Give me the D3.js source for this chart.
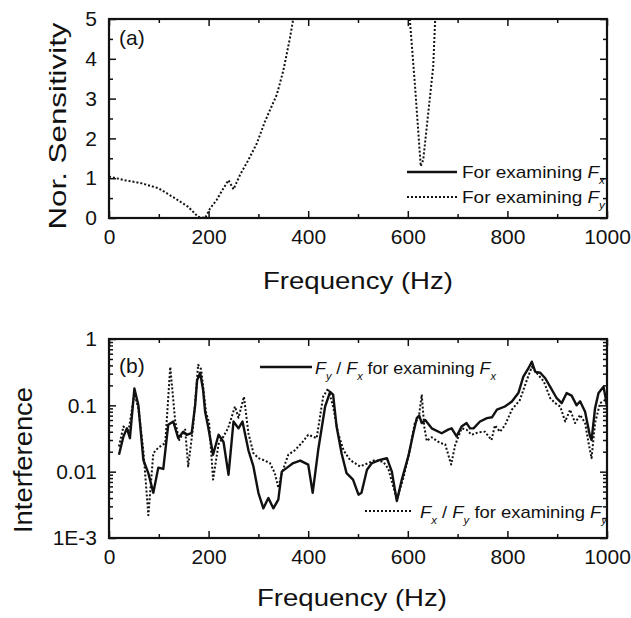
<!DOCTYPE html>
<html>
<head>
<meta charset="utf-8">
<script src="https://cdn.jsdelivr.net/npm/d3@7"></script>
<style>
  body { margin: 0; background: #fff; }
  svg { display: block; font-family: Arial, "Liberation Sans", sans-serif; }
  .tick text { font-size: 21px; fill: #111; }
  .tick line { stroke: #111; stroke-width: 1.5; }
</style>
</head>
<body>
<svg id="chart" width="631" height="618"></svg>
<script>
// ---- panel (a): normalized sensitivity (only the F_y curve falls inside 0..5)
const sensFreq = [0, 32, 66, 99, 132, 159, 179, 193, 203, 216, 230, 240, 250, 263, 280, 297, 313, 337, 350, 363, 370,
                  null, 604, 614, 626, 631, 651, 655];
const sensFy   = [1.04, 0.95, 0.87, 0.75, 0.5, 0.28, 0.03, 0.0, 0.24, 0.45, 0.75, 0.95, 0.72, 1.08, 1.46, 1.88, 2.42, 3.1, 3.7, 4.5, 5.0,
                  null, 5.0, 3.4, 1.3, 1.46, 3.8, 5.0];

// ---- panel (b): interference
const intFreqX = [20, 29, 36, 42, 51, 59, 69, 79, 89, 99, 109, 119, 129, 139, 149, 156, 166, 173, 177, 183, 189, 193, 199, 209,
                  220, 230, 240, 250, 260, 268, 280, 290, 300, 310, 320, 330, 340, 347, 357, 370, 384, 400, 409, 420, 434, 444,
                  450, 457, 467, 477, 490, 501, 507, 518, 528, 544, 558, 568, 578, 588, 601, 611, 618, 623, 628, 635, 648, 668,
                  681, 688, 698, 708, 718, 725, 732, 745, 759, 769, 779, 795, 809, 822, 832, 842, 849, 856, 866, 876, 886, 899,
                  909, 919, 929, 939, 946, 956, 966, 969, 976, 983, 993, 1000];
const intFx    = [0.018, 0.034, 0.045, 0.032, 0.18, 0.10, 0.015, 0.0095, 0.0048, 0.0115, 0.011, 0.051, 0.057, 0.032, 0.04, 0.036, 0.038, 0.1, 0.24, 0.31, 0.17, 0.08,
                  0.048, 0.018, 0.036, 0.028, 0.009, 0.057, 0.045, 0.057, 0.021, 0.012, 0.0048, 0.0028, 0.004, 0.0028, 0.0038, 0.010,
                  0.0114, 0.0135, 0.0147, 0.0128, 0.0048, 0.021, 0.096, 0.16, 0.145, 0.048, 0.019, 0.0095, 0.0076, 0.0045, 0.0048,
                  0.0107, 0.0135, 0.015, 0.016, 0.010, 0.0036, 0.0076, 0.017, 0.038, 0.064, 0.07, 0.054, 0.06, 0.045, 0.038, 0.043,
                  0.045, 0.034, 0.048, 0.054, 0.045, 0.045, 0.057, 0.064, 0.066, 0.086, 0.096, 0.114, 0.153, 0.27, 0.36, 0.455, 0.32,
                  0.31, 0.256, 0.19, 0.128, 0.108, 0.153, 0.14, 0.10, 0.115, 0.08, 0.034, 0.03, 0.09, 0.153, 0.19, 0.1];

const intFreqY = [20, 29, 39, 51, 59, 69, 79, 89, 99, 113, 123, 133, 141, 153, 159, 169, 179, 185, 195, 201, 209, 220, 230, 239,
                  253, 260, 271, 280, 290, 300, 310, 323, 333, 340, 347, 360, 373, 387, 400, 417, 430, 440, 450, 460, 471, 484,
                  504, 521, 534, 551, 561, 578, 591, 604, 614, 622, 628, 633, 638, 648, 665, 675, 687, 695, 708, 718, 728, 741,
                  755, 768, 775, 785, 795, 809, 825, 839, 849, 860, 873, 886, 896, 906, 916, 926, 936, 946, 956, 963, 969, 976,
                  986, 996, 1000];
const intFy    = [0.024, 0.048, 0.04, 0.15, 0.09, 0.021, 0.0022, 0.019, 0.023, 0.027, 0.38, 0.057, 0.03, 0.043, 0.012, 0.048, 0.41,
                  0.35, 0.077, 0.055, 0.0076, 0.026, 0.034, 0.045, 0.096, 0.065, 0.135, 0.038, 0.019, 0.016, 0.015, 0.0135, 0.0095,
                  0.0057, 0.0095, 0.018, 0.021, 0.027, 0.036, 0.032, 0.135, 0.18, 0.096, 0.038, 0.021, 0.015, 0.012, 0.0135, 0.015,
                  0.014, 0.011, 0.0038, 0.008, 0.021, 0.054, 0.065, 0.145, 0.048, 0.029, 0.033, 0.027, 0.026, 0.0128, 0.025, 0.045,
                  0.043, 0.036, 0.039, 0.04, 0.03, 0.05, 0.04, 0.05, 0.086, 0.12, 0.24, 0.38, 0.3, 0.23, 0.128, 0.108, 0.096, 0.057,
                  0.086, 0.054, 0.072, 0.054, 0.027, 0.016, 0.054, 0.108, 0.12, 0.1];

const xTicks = [0, 200, 400, 600, 800, 1000];
const xMinor = [100, 300, 500, 700, 900];
const sensTicks = [0, 1, 2, 3, 4, 5];
const sensMinor = [0.5, 1.5, 2.5, 3.5, 4.5];
const intTicks = [1e-3, 1e-2, 1e-1, 1];
const intTickLabels = ['1E-3', '0.01', '0.1', '1'];

const svg = d3.select('#chart');
const ink = '#111';

const x = d3.scaleLinear().domain([0, 1000]).range([109, 607]);
const ySens = d3.scaleLinear().domain([0, 5]).range([218, 19]);
const yInt = d3.scaleLog().domain([1e-3, 1]).range([538, 339]);

const intMinor = [];
[1e-3, 1e-2, 1e-1].forEach(d => { for (let k = 2; k <= 9; k++) intMinor.push(d * k); });

function drawFrame(y, yTicks, yMinor, yFormat) {
    const [xl, xr] = x.range();
    const [yb, yt] = y.range();
    const g = svg.append('g');

    const put = (axis, tx, ty) => {
        const a = g.append('g').attr('transform', `translate(${tx},${ty})`).call(axis);
        a.select('.domain').remove();
        return a;
    };

    // major ticks with labels, then mirrored / minor ones without
    put(d3.axisBottom(x).tickValues(xTicks).tickSizeInner(-7).tickSizeOuter(0).tickPadding(11).tickFormat(d3.format('d')), 0, yb);
    put(d3.axisBottom(x).tickValues(xMinor).tickSize(-4).tickFormat(''), 0, yb);
    put(d3.axisTop(x).tickValues(xTicks).tickSize(-7).tickFormat(''), 0, yt);
    put(d3.axisTop(x).tickValues(xMinor).tickSize(-4).tickFormat(''), 0, yt);

    put(d3.axisLeft(y).tickValues(yTicks).tickSizeInner(-7).tickSizeOuter(0).tickPadding(12).tickFormat(yFormat), xl, 0);
    put(d3.axisLeft(y).tickValues(yMinor).tickSize(-4).tickFormat(''), xl, 0);
    put(d3.axisRight(y).tickValues(yTicks).tickSize(-7).tickFormat(''), xr, 0);
    put(d3.axisRight(y).tickValues(yMinor).tickSize(-4).tickFormat(''), xr, 0);

    g.append('rect')
        .attr('x', xl).attr('y', yt)
        .attr('width', xr - xl).attr('height', yb - yt)
        .attr('fill', 'none').attr('stroke', ink).attr('stroke-width', 2.2);
}

function clip(id, y) {
    const [xl, xr] = x.range();
    const [yb, yt] = y.range();
    svg.append('clipPath').attr('id', id)
        .append('rect').attr('x', xl).attr('y', yt).attr('width', xr - xl).attr('height', yb - yt);
}

function drawLine(freq, vals, y, clipId, dotted) {
    const pts = freq.map((f, i) => [f, vals[i]]);
    const line = d3.line()
        .defined(d => d[0] !== null && d[1] !== null)
        .x(d => x(d[0]))
        .y(d => y(d[1]));
    svg.append('path')
        .datum(pts)
        .attr('clip-path', `url(#${clipId})`)
        .attr('d', line)
        .attr('fill', 'none')
        .attr('stroke', ink)
        .attr('stroke-width', dotted ? 2 : 2.4)
        .attr('stroke-dasharray', dotted ? '2,2' : null)
        .attr('stroke-linejoin', 'round');
}

// rich text: parts = [text, style] where style is 'i' (italic F) or 's' (subscript)
function richText(tx, ty, parts, size, len) {
    const t = svg.append('text').attr('x', tx).attr('y', ty)
        .attr('font-size', size).attr('fill', ink)
        .attr('textLength', len).attr('lengthAdjust', 'spacingAndGlyphs');
    let shifted = false;
    parts.forEach(([s, st]) => {
        const sp = t.append('tspan').text(s);
        if (st === 'i') sp.attr('font-style', 'italic');
        if (st === 's') {
            sp.attr('font-size', size * 0.62).attr('font-style', 'italic').attr('dy', 6);
            shifted = true;
        } else if (shifted) {
            sp.attr('dy', -6);
            shifted = false;
        }
    });
    return t;
}

function legendSample(x0, x1, yy, dotted) {
    svg.append('line')
        .attr('x1', x0).attr('x2', x1).attr('y1', yy).attr('y2', yy)
        .attr('stroke', ink)
        .attr('stroke-width', dotted ? 2 : 2.4)
        .attr('stroke-dasharray', dotted ? '2,2' : null);
}

function title(tx, ty, text, size, len, rotate) {
    svg.append('text')
        .attr('transform', `translate(${tx},${ty})` + (rotate ? ' rotate(-90)' : ''))
        .attr('text-anchor', 'middle')
        .attr('font-size', size)
        .attr('textLength', len)
        .attr('lengthAdjust', 'spacingAndGlyphs')
        .attr('fill', ink)
        .text(text);
}

// ---- panel (a)
clip('clipA', ySens);
drawFrame(ySens, sensTicks, sensMinor, d3.format('d'));
drawLine(sensFreq, sensFy, ySens, 'clipA', true);

svg.append('text').attr('x', 119).attr('y', 45).attr('font-size', 21).attr('fill', ink).text('(a)');
legendSample(407, 457, 172, false);
richText(462, 178, [['For examining '], ['F', 'i'], ['x', 's']], 17, 143);
legendSample(407, 457, 197, true);
richText(462, 203, [['For examining '], ['F', 'i'], ['y', 's']], 17, 143);

title(66, 126, 'Nor. Sensitivity', 24, 207, true);
title(358, 289, 'Frequency (Hz)', 24, 190, false);

// ---- panel (b)
clip('clipB', yInt);
drawFrame(yInt, intTicks, intMinor, (d, i) => intTickLabels[i]);
drawLine(intFreqY, intFy, yInt, 'clipB', true);
drawLine(intFreqX, intFx, yInt, 'clipB', false);

svg.append('text').attr('x', 119).attr('y', 373).attr('font-size', 21).attr('fill', ink).text('(b)');
legendSample(260, 312, 367, false);
richText(315, 374, [['F', 'i'], ['y', 's'], [' / '], ['F', 'i'], ['x', 's'], [' for examining '], ['F', 'i'], ['x', 's']], 17, 181);
legendSample(365, 413, 511, true);
richText(420, 518, [['F', 'i'], ['x', 's'], [' / '], ['F', 'i'], ['y', 's'], [' for examining '], ['F', 'i'], ['y', 's']], 17, 187);

title(32, 460, 'Interference', 26, 146, true);
title(352, 606, 'Frequency (Hz)', 24, 190, false);
</script>
</body>
</html>
